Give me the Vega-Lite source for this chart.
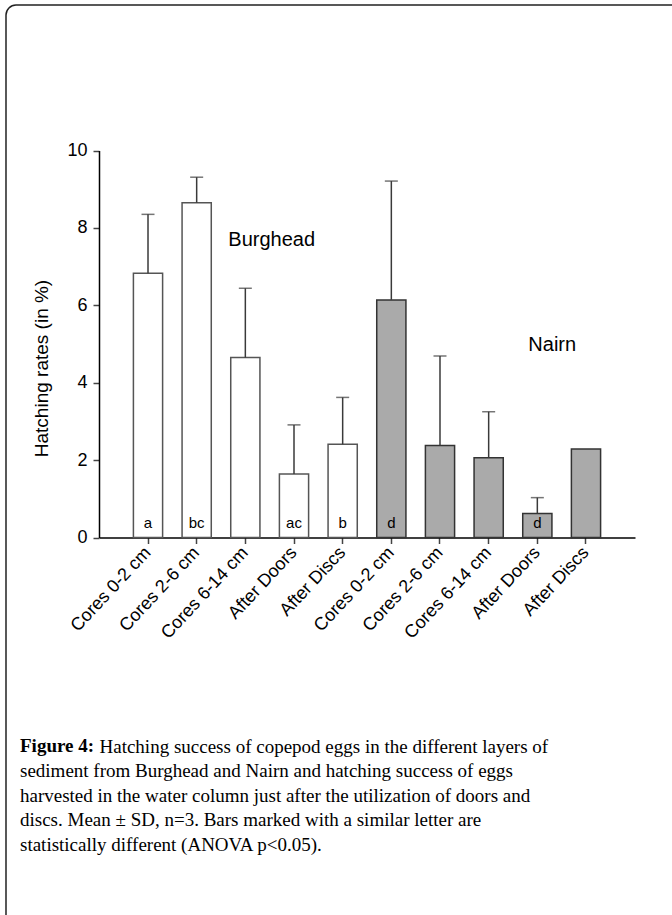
{
  "$schema": "https://vega.github.io/schema/vega-lite/v6.json",
  "width": 678,
  "height": 922,
  "autosize": {"type": "none"},
  "padding": {"left": 6, "top": 5, "right": -12, "bottom": -12},
  "background": "#ffffff",
  "config": {
    "view": {"stroke": "#222222", "strokeWidth": 1.5, "cornerRadius": 10, "fill": "#ffffff"},
    "axis": {"labelFont": "Liberation Sans", "titleFont": "Liberation Sans", "labelColor": "#000000", "titleColor": "#000000", "domainColor": "#000000", "domainWidth": 1.5, "tickColor": "#444444", "tickWidth": 1.5, "tickSize": 6, "grid": false}
  },
  "title": {
    "text": "Figure 4:",
    "subtitle": [
      "sediment from Burghead and Nairn and hatching success of eggs",
      "harvested in the water column just after the utilization of doors and",
      "discs. Mean ± SD, n=3. Bars marked with a similar letter are",
      "statistically different (ANOVA p<0.05)."
    ],
    "orient": "bottom",
    "anchor": "start",
    "frame": "group",
    "offset": -190,
    "dx": 14,
    "font": "Liberation Serif",
    "fontSize": 19,
    "fontWeight": "bold",
    "color": "#000000",
    "subtitleFont": "Liberation Serif",
    "subtitleFontSize": 19,
    "subtitleColor": "#000000",
    "subtitleLineHeight": 24.5,
    "subtitlePadding": 6
  },
  "data": {
    "values": [
      {"key": "Cores 0-2 cm|B", "site": "Burghead", "mean": 6.83, "upper": 8.35, "letter": "a"},
      {"key": "Cores 2-6 cm|B", "site": "Burghead", "mean": 8.65, "upper": 9.31, "letter": "bc"},
      {"key": "Cores 6-14 cm|B", "site": "Burghead", "mean": 4.65, "upper": 6.44, "letter": ""},
      {"key": "After Doors|B", "site": "Burghead", "mean": 1.64, "upper": 2.91, "letter": "ac"},
      {"key": "After Discs|B", "site": "Burghead", "mean": 2.41, "upper": 3.62, "letter": "b"},
      {"key": "Cores 0-2 cm|N", "site": "Nairn", "mean": 6.14, "upper": 9.21, "letter": "d"},
      {"key": "Cores 2-6 cm|N", "site": "Nairn", "mean": 2.38, "upper": 4.69, "letter": ""},
      {"key": "Cores 6-14 cm|N", "site": "Nairn", "mean": 2.06, "upper": 3.25, "letter": ""},
      {"key": "After Doors|N", "site": "Nairn", "mean": 0.62, "upper": 1.03, "letter": "d"},
      {"key": "After Discs|N", "site": "Nairn", "mean": 2.29, "upper": null, "letter": ""}
    ]
  },
  "encoding": {
    "x": {
      "field": "key", "type": "nominal", "sort": null,
      "scale": {"range": [93, 629], "paddingInner": 0.4, "paddingOuter": 0.707},
      "axis": {
        "orient": "bottom", "offset": -389.5,
        "labelExpr": "split(datum.value, '|')[0]",
        "labelAngle": -47, "labelAlign": "right", "labelBaseline": "middle",
        "labelFontSize": 18, "labelPadding": 6,
        "title": "Hatching success of copepod eggs in the different layers of",
        "titleFont": "Liberation Serif", "titleFontSize": 19, "titleFontWeight": "normal",
        "titleX": 93, "titleY": 199.5, "titleAlign": "left", "titleAnchor": null, "titleBaseline": "top", "titleAngle": 0
      }
    }
  },
  "layer": [
    {
      "mark": {"type": "bar", "strokeWidth": 1.5},
      "encoding": {
        "y": {
          "field": "mean", "type": "quantitative",
          "scale": {"domain": [0, 10], "range": [532.5, 145.5], "nice": false},
          "axis": {
            "orient": "left", "offset": -93, "values": [0, 2, 4, 6, 8, 10], "format": "d",
            "labelFontSize": 18, "labelPadding": 6,
            "title": "Hatching rates (in %)", "titleFontSize": 19, "titleFontWeight": "normal",
            "titleX": -58, "titleY": 363, "titleAngle": -90, "titleAlign": "center", "titleBaseline": "middle", "titleAnchor": null
          }
        },
        "fill": {"field": "site", "type": "nominal", "scale": {"domain": ["Burghead", "Nairn"], "range": ["#ffffff", "#aaaaaa"]}, "legend": null},
        "stroke": {"field": "site", "type": "nominal", "scale": {"domain": ["Burghead", "Nairn"], "range": ["#555555", "#333333"]}, "legend": null}
      }
    },
    {
      "transform": [{"filter": "datum.upper != null"}],
      "mark": {"type": "rule", "strokeWidth": 1.5, "color": "#3a3a3a"},
      "encoding": {
        "y": {"field": "mean", "type": "quantitative"},
        "y2": {"field": "upper"}
      }
    },
    {
      "transform": [{"filter": "datum.upper != null"}],
      "mark": {"type": "tick", "orient": "horizontal", "size": 13, "thickness": 1.5, "color": "#3a3a3a"},
      "encoding": {
        "y": {"field": "upper", "type": "quantitative"}
      }
    },
    {
      "transform": [{"filter": "datum.letter != ''"}],
      "mark": {"type": "text", "font": "Liberation Sans", "fontSize": 15, "fontWeight": "normal", "baseline": "middle", "align": "center", "dy": -15, "fill": "#000000"},
      "encoding": {
        "y": {"datum": 0, "type": "quantitative"},
        "text": {"field": "letter"}
      }
    },
    {
      "data": {"values": [{"site": "Burghead", "key": "Cores 6-14 cm|B"}]},
      "mark": {"type": "text", "font": "Liberation Sans", "fontSize": 20, "fontWeight": "normal", "align": "left", "baseline": "middle", "dx": -17, "fill": "#000000"},
      "encoding": {
        "y": {"datum": 7.69, "type": "quantitative"},
        "text": {"field": "site"}
      }
    },
    {
      "data": {"values": [{"site": "Nairn", "key": "After Doors|N"}]},
      "mark": {"type": "text", "font": "Liberation Sans", "fontSize": 20, "fontWeight": "normal", "align": "left", "baseline": "middle", "dx": -9, "fill": "#000000"},
      "encoding": {
        "y": {"datum": 4.97, "type": "quantitative"},
        "text": {"field": "site"}
      }
    }
  ]
}
